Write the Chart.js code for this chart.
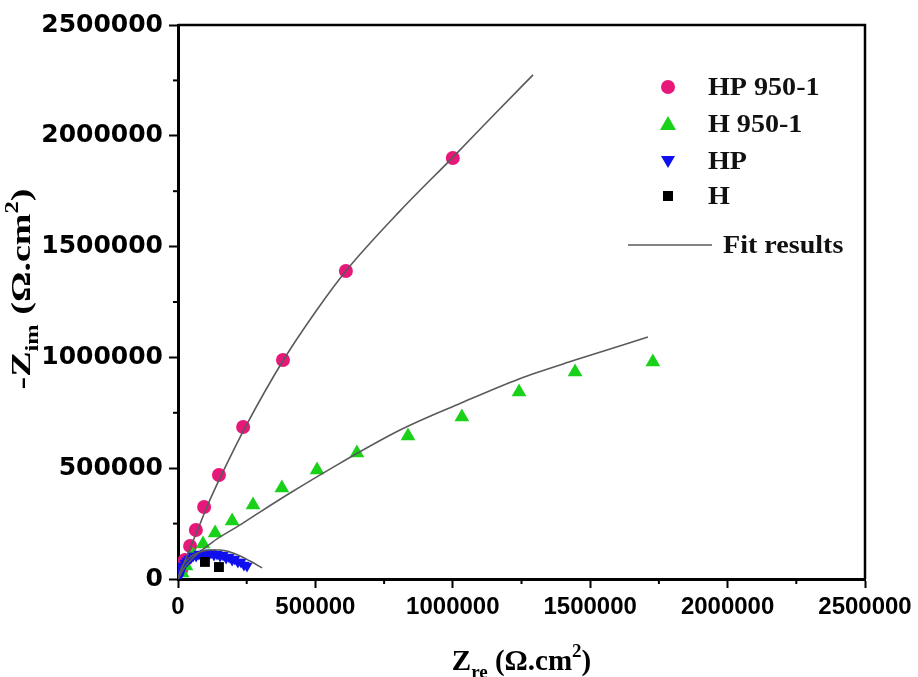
<!DOCTYPE html>
<html><head><meta charset="utf-8">
<script src="https://cdn.jsdelivr.net/npm/chart.js@4.4.1/dist/chart.umd.min.js"></script>
<style>html,body{margin:0;padding:0;background:#fff}#wrap{width:918px;height:677px;position:relative}</style>
</head><body><div id="wrap"><canvas id="c" width="918" height="677"></canvas></div>
<script>
// ---- data ----
const hp9501X = [11000, 25000, 44000, 65000, 95000, 149000, 237000, 382000, 611000, 1000000];
const hp9501Y = [40000, 86000, 149000, 221000, 325000, 469000, 686000, 988000, 1390000, 1900000];

const h9501X = [15000, 29000, 55000, 91000, 135000, 197000, 273000, 378000, 506000, 651000, 837000, 1033000, 1241000, 1445000, 1728000];
const h9501Y = [27000, 59000, 108000, 158000, 208000, 262000, 334000, 411000, 492000, 569000, 645000, 731000, 844000, 934000, 979000];

const hpX = [3600, 7000, 11000, 15000, 18000, 25000, 33000, 40000, 47000, 55000, 66000, 76000, 87000, 98000, 109000, 120000, 131000, 142000, 153000, 164000, 175000, 186000, 197000, 207000, 218000, 229000, 240000, 251000];
const hpY = [9000, 23000, 36000, 50000, 59000, 72000, 81000, 90000, 95000, 104000, 104000, 113000, 108000, 117000, 108000, 117000, 108000, 113000, 104000, 108000, 95000, 99000, 86000, 90000, 77000, 77000, 63000, 59000];

const hX = [98000, 149000];
const hY = [77000, 54000];

const fitHp9501X = [0, 18000, 44000, 73000, 105000, 160000, 247000, 382000, 500000, 611000, 808000, 1001000, 1150000, 1292000];
const fitHp9501Y = [0, 59000, 140000, 226000, 325000, 474000, 690000, 985000, 1205000, 1390000, 1661000, 1904000, 2095000, 2275000];

const fitH9501X = [0, 25000, 62000, 98000, 142000, 226000, 298000, 408000, 553000, 808000, 1030000, 1241000, 1445000, 1710000];
const fitH9501Y = [0, 54000, 104000, 140000, 181000, 244000, 302000, 388000, 496000, 672000, 794000, 903000, 988000, 1092000];

const fitHpX = [0, 7000, 18000, 33000, 55000, 80000, 116000, 153000, 189000, 226000, 262000, 306000];
const fitHpY = [0, 32000, 63000, 86000, 108000, 122000, 131000, 131000, 122000, 104000, 81000, 50000];

const seriesLabels = ['HP 950-1', 'H 950-1', 'HP', 'H'];
const fitLabel = 'Fit results';
const axisMin = 0, axisMax = 2500000, majorStep = 500000, minorStep = 250000;
const xTitle = ['Z', 're', ' (\u03A9.cm', '2', ')'];
const yTitle = ['-Z', 'im', ' (\u03A9.cm', '2', ')'];

// ---- styles ----
const PINK = '#E8177A', GREEN = '#19D119', BLUE = '#1010EE', BLACK = '#000000', FIT = '#5a5a5a';
const zip = (xs, ys) => xs.map((x, i) => ({x: x, y: ys[i]}));
const fitStyle = {showLine: true, pointRadius: 0, borderColor: FIT, borderWidth: 1.6, cubicInterpolationMode: 'monotone', order: 0};

const datasets = [
  Object.assign({label: 'fit HP 950-1', data: zip(fitHp9501X, fitHp9501Y)}, fitStyle),
  Object.assign({label: 'fit H 950-1', data: zip(fitH9501X, fitH9501Y)}, fitStyle),
  Object.assign({label: 'fit HP', data: zip(fitHpX, fitHpY)}, fitStyle),
  {label: seriesLabels[3], data: zip(hX, hY), pointStyle: 'rect', pointRadius: 7, backgroundColor: BLACK, borderColor: BLACK, borderWidth: 0, order: 1},
  {label: seriesLabels[2], data: zip(hpX, hpY), pointStyle: 'triangle', rotation: 180, pointRadius: 6.5, backgroundColor: BLUE, borderColor: BLUE, borderWidth: 0, order: 2},
  {label: seriesLabels[1], data: zip(h9501X, h9501Y), pointStyle: 'triangle', pointRadius: 8.5, backgroundColor: GREEN, borderColor: GREEN, borderWidth: 0, order: 3},
  {label: seriesLabels[0], data: zip(hp9501X, hp9501Y), pointStyle: 'circle', pointRadius: 7, backgroundColor: PINK, borderColor: PINK, borderWidth: 0, order: 4}
];

const xTickFont = {family: '"Liberation Sans"', weight: 'bold', size: 24};
const yTickFont = {family: '"DejaVu Sans"', weight: 'bold', size: 25};
const majorOnly = v => (Math.round(v) % majorStep === 0) ? String(Math.round(v)) : '';
const tickCol = c => (Math.round(c.tick.value) % majorStep === 0) ? '#000' : 'rgba(0,0,0,0)';

function drawRich(ctx, parts, size, subSize) {
  const mainF = 'bold ' + size + 'px "Liberation Serif"';
  const smallF = 'bold ' + subSize + 'px "Liberation Serif"';
  const fonts = [mainF, smallF, mainF, smallF, mainF];
  const offs = [0, size * 0.28, 0, -size * 0.42, 0];
  const widths = parts.map((p, i) => { ctx.font = fonts[i]; return ctx.measureText(p).width; });
  const total = widths.reduce((a, b) => a + b, 0);
  let x = -total / 2;
  const base = size * 0.33;
  parts.forEach((p, i) => {
    ctx.font = fonts[i];
    ctx.fillText(p, x, base + offs[i]);
    x += widths[i];
  });
}

const decor = {
  id: 'decor',
  afterDraw(chart) {
    const ctx = chart.ctx, a = chart.chartArea;
    const xs = chart.scales.x, ys = chart.scales.y;
    ctx.save();
    ctx.strokeStyle = '#000'; ctx.lineWidth = 2.5;
    ctx.beginPath();
    ctx.moveTo(a.left, a.top); ctx.lineTo(a.right, a.top); ctx.lineTo(a.right, a.bottom);
    ctx.stroke();
    ctx.lineWidth = 2;
    for (let v = minorStep; v < axisMax; v += majorStep) {
      const px = xs.getPixelForValue(v);
      ctx.beginPath(); ctx.moveTo(px, a.bottom); ctx.lineTo(px, a.bottom + 5); ctx.stroke();
      const py = ys.getPixelForValue(v);
      ctx.beginPath(); ctx.moveTo(a.left, py); ctx.lineTo(a.left - 5, py); ctx.stroke();
    }
    ctx.fillStyle = '#000'; ctx.textAlign = 'left'; ctx.textBaseline = 'alphabetic';
    ctx.save(); ctx.translate((a.left + a.right) / 2, 660); drawRich(ctx, xTitle, 29, 19); ctx.restore();
    ctx.save(); ctx.translate(21, 289); ctx.rotate(-Math.PI / 2); ctx.scale(1.36, 1); drawRich(ctx, yTitle, 28, 18); ctx.restore();
    const mx = 668, tx = 708;
    const rows = [87, 124, 161, 196];
    ctx.font = 'bold 26px "Liberation Serif"';
    ctx.textBaseline = 'middle';
    ctx.fillStyle = PINK; ctx.beginPath(); ctx.arc(mx, rows[0], 7, 0, Math.PI * 2); ctx.fill();
    ctx.fillStyle = GREEN; ctx.beginPath(); ctx.moveTo(mx, rows[1] - 8); ctx.lineTo(mx + 8, rows[1] + 6); ctx.lineTo(mx - 8, rows[1] + 6); ctx.closePath(); ctx.fill();
    ctx.fillStyle = BLUE; ctx.beginPath(); ctx.moveTo(mx - 7, rows[2] - 5); ctx.lineTo(mx + 7, rows[2] - 5); ctx.lineTo(mx, rows[2] + 7); ctx.closePath(); ctx.fill();
    ctx.fillStyle = BLACK; ctx.fillRect(mx - 5, rows[3] - 5, 10, 10);
    ctx.fillStyle = '#111';
    seriesLabels.forEach((t, i) => {
      ctx.save(); ctx.translate(tx, rows[i] + 1); ctx.scale(1.08, 1); ctx.fillText(t, 0, 0); ctx.restore();
    });
    ctx.strokeStyle = FIT; ctx.lineWidth = 1.6;
    ctx.beginPath(); ctx.moveTo(628, 245); ctx.lineTo(712, 245); ctx.stroke();
    ctx.save(); ctx.translate(723, 246); ctx.scale(1.08, 1); ctx.fillText(fitLabel, 0, 0); ctx.restore();
    ctx.restore();
  }
};

new Chart(document.getElementById('c'), {
  type: 'scatter',
  data: {datasets: datasets},
  options: {
    responsive: false, animation: false, devicePixelRatio: 1,
    layout: {padding: {left: 0, right: 53, top: 25, bottom: 0}},
    plugins: {legend: {display: false}, tooltip: {enabled: false}},
    scales: {
      x: {
        type: 'linear', min: axisMin, max: axisMax,
        ticks: {stepSize: minorStep, callback: majorOnly, font: xTickFont, color: '#000', padding: 5, maxRotation: 0, autoSkip: false},
        grid: {drawOnChartArea: false, drawTicks: true, tickLength: 9, tickWidth: 2, tickColor: tickCol},
        border: {display: true, width: 3, color: '#000'},
        afterFit(s) { s.height = 98; s.paddingLeft = 0; s.paddingRight = 0; }
      },
      y: {
        type: 'linear', min: axisMin, max: axisMax,
        ticks: {stepSize: minorStep, callback: majorOnly, font: yTickFont, color: '#000', padding: 6, autoSkip: false},
        grid: {drawOnChartArea: false, drawTicks: true, tickLength: 9, tickWidth: 2, tickColor: tickCol},
        border: {display: true, width: 3, color: '#000'},
        afterFit(s) { s.width = 178; s.paddingTop = 0; s.paddingBottom = 0; }
      }
    }
  },
  plugins: [decor]
});
</script></body></html>
